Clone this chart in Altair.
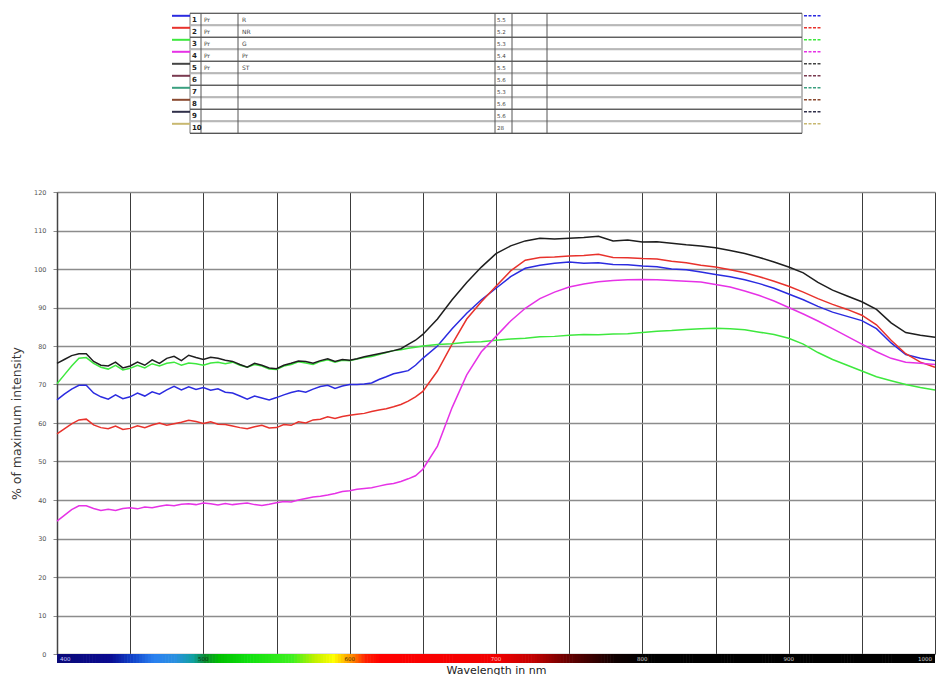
import altair as alt
import pandas as pd

# ---------------- data ----------------
wl_fine = list(range(400, 651, 5))
wl_coarse = list(range(660, 1001, 10))
wavelengths = wl_fine + wl_coarse

series_names = ["1", "2", "3", "4", "5"]
series_colors = ["#2b2be0", "#e8322c", "#3ee83e", "#e632e6", "#1e1e1e"]

blue = [66.0, 67.5, 68.8, 69.8, 69.8, 67.8, 66.8, 66.2, 67.3, 66.3,
        66.8, 67.8, 67.0, 68.1, 67.5, 68.6, 69.5, 68.6, 69.4, 68.7,
        69.2, 68.5, 68.9, 68.0, 67.8, 67.0, 66.2, 67.0, 66.5, 66.0,
        66.6, 67.3, 67.9, 68.4, 68.0, 68.8, 69.5, 69.8, 69.0, 69.6,
        70.0, 70.0, 70.1, 70.4, 71.3, 72.0, 72.8, 73.2, 73.6, 75.0,
        76.8,
        80.0, 84.5, 88.5, 92.0, 95.0, 98.0, 100.2, 101.0, 101.5, 101.8,
        101.5, 101.6, 101.2, 101.1, 100.8, 100.6, 100.0, 99.8, 99.2, 98.6,
        98.0, 97.2, 96.2, 95.0, 93.5, 92.0, 90.3, 88.8, 87.7, 86.6,
        84.5, 80.8, 77.8, 76.8, 76.2]

red = [57.2, 58.5, 59.8, 60.8, 61.0, 59.5, 58.8, 58.5, 59.2, 58.3,
       58.6, 59.3, 58.8, 59.5, 60.0, 59.4, 59.8, 60.2, 60.7, 60.4,
       59.9, 60.3, 59.7, 59.6, 59.2, 58.8, 58.5, 59.0, 59.4, 58.7,
       58.8, 59.6, 59.4, 60.3, 60.0, 60.8, 61.0, 61.6, 61.2, 61.7,
       62.0, 62.3, 62.5, 63.0, 63.4, 63.7, 64.2, 64.8, 65.7, 66.8,
       68.2,
       73.5, 80.5, 87.0, 91.5, 95.5, 99.5, 102.3, 103.0, 103.1, 103.4,
       103.5, 103.8, 103.0, 102.9, 102.7, 102.6, 102.0, 101.6, 101.0, 100.5,
       99.8, 99.0, 98.0, 96.8, 95.5, 94.0, 92.3, 90.8, 89.5, 88.0,
       85.5, 81.5, 78.0, 75.8, 74.5]

green = [70.2, 72.5, 74.8, 76.8, 77.0, 75.5, 74.5, 74.0, 75.0, 73.8,
         74.2, 75.0, 74.3, 75.4, 74.8, 75.5, 75.8, 75.0, 75.6, 75.4,
         75.0, 75.6, 75.8, 75.4, 75.8, 75.0, 74.5, 75.2, 74.8, 74.0,
         73.9, 74.8, 75.2, 75.9, 75.6, 75.2, 76.0, 76.4, 75.8, 76.3,
         76.2, 76.6, 77.0, 77.3, 77.8, 78.3, 78.8, 79.0, 79.4, 79.7,
         80.0,
         80.4, 80.6, 81.0, 81.1, 81.5, 81.8, 82.0, 82.4, 82.5, 82.8,
         83.0, 82.9, 83.1, 83.2, 83.5, 83.8, 84.0, 84.3, 84.5, 84.6,
         84.5, 84.2, 83.6, 83.0, 82.0, 80.5, 78.3, 76.5, 75.0, 73.5,
         72.0, 71.0, 70.0, 69.2, 68.6]

magenta = [34.5, 36.0, 37.5, 38.5, 38.5, 37.8, 37.3, 37.6, 37.3, 37.8,
           38.0, 37.7, 38.2, 38.0, 38.4, 38.7, 38.5, 38.9, 39.0, 38.8,
           39.2, 39.0, 38.7, 39.1, 38.8, 39.0, 39.2, 38.8, 38.6, 38.9,
           39.3, 39.6, 39.5, 40.0, 40.4, 40.8, 41.0, 41.3, 41.7, 42.2,
           42.4, 42.8, 43.0, 43.2, 43.6, 44.0, 44.3, 44.8, 45.5, 46.3,
           48.0,
           54.0, 64.0, 72.5, 78.5, 82.5, 86.5, 89.8, 92.3, 94.0, 95.3,
           96.1, 96.7, 97.0, 97.2, 97.3, 97.2, 97.0, 96.8, 96.6, 96.0,
           95.3, 94.3, 93.1, 91.7, 90.0, 88.3, 86.5, 84.5, 82.5, 80.5,
           78.5, 76.8, 75.8, 75.5, 75.2]

black = [75.5, 76.5, 77.5, 78.0, 78.0, 76.0, 75.0, 74.8, 75.8, 74.3,
         74.8, 75.8, 75.0, 76.4, 75.5, 76.8, 77.3, 76.2, 77.6, 77.0,
         76.5, 77.1, 76.8, 76.3, 76.0, 75.2, 74.5, 75.5, 75.0, 74.3,
         74.1, 75.0, 75.5, 76.1, 76.0, 75.5, 76.2, 76.7, 76.0, 76.5,
         76.3, 76.7, 77.2, 77.6, 78.0, 78.4, 78.8, 79.3, 80.4, 81.5,
         83.0,
         87.0, 92.0, 96.5, 100.5, 104.0, 106.0, 107.3, 108.0, 107.8, 108.0,
         108.2, 108.5, 107.3, 107.5, 107.0, 107.1, 106.7, 106.3, 106.0, 105.5,
         104.8, 104.0, 103.0, 101.8, 100.5, 99.0, 96.5, 94.5, 93.0, 91.5,
         89.5, 86.0, 83.5, 82.8, 82.3]

y_ticks = list(range(0, 121, 10))
x_grid = list(range(400, 1001, 50))

# legend table rows
table_rows = list(range(1, 11))
table_colors = ["#2b2be0", "#e8322c", "#3ee83e", "#e632e6", "#444444",
                "#7a3a50", "#3aa080", "#8a4a30", "#30304a", "#c8b870"]
table_pr = ["Pr", "Pr", "Pr", "Pr", "Pr", "", "", "", "", ""]
table_names = ["R", "NR", "G", "Pr", "ST", "", "", "", "", ""]
table_vals = ["5.5", "5.2", "5.3", "5.4", "5.5", "5.6", "5.3", "5.6", "5.6", "28"]

# spectrum bar colours
spec_stops = [400, 435, 450, 465, 480, 492, 500, 510, 530, 560, 575, 588,
              600, 610, 620, 700, 725, 750, 780, 800, 1000]
spec_colors = ["#0a0a78", "#0a0a90", "#1040c8", "#2a80f0", "#2a90e0", "#10a0a0",
               "#0a8a30", "#00c000", "#10e010", "#40f020", "#c0f000", "#ffff00",
               "#ff9000", "#ff2000", "#ff0000", "#f00000", "#c00000", "#600000",
               "#100000", "#000000", "#000000"]
bar_labels = ["400", "500", "600", "700", "800", "900", "1000"]
bar_label_wl = [400, 500, 600, 700, 800, 900, 1000]
bar_label_colors = ["#c8c8ff", "#103010", "#503000", "#ffc0c0", "#cfcfcf", "#cfcfcf", "#cfcfcf"]

# ---------------- frames ----------------
rows = []
for name, vals in zip(series_names, [blue, red, green, magenta, black]):
    for w, v in zip(wavelengths, vals):
        rows.append({"series": name, "wl": w, "value": v})
lines_df = pd.DataFrame(rows)

spec_df = pd.DataFrame({"wl": list(range(400, 1000, 2))})
labels_df = pd.DataFrame({"lab": bar_labels, "lw": bar_label_wl, "col": bar_label_colors})
table_df = pd.DataFrame({"row": table_rows, "color": table_colors, "pr": table_pr,
                         "name": table_names, "val": table_vals})

PLOT_TOP = 184          # padding above plot (plot top at 8 + 184 = 192 on the page)
H = 462
BAR_TOP, BAR_BOT = H, H + 9

xscale = alt.Scale(domain=[400, 1000], nice=False, zero=False)
yscale = alt.Scale(domain=[0, 120], nice=False)

lines = alt.Chart(lines_df).mark_line(strokeWidth=1.5).encode(
    x=alt.X("wl:Q", scale=xscale,
            axis=alt.Axis(values=x_grid, grid=True, gridColor="#3c3c3c", gridWidth=1,
                          labels=False, ticks=False, domain=False,
                          title="Wavelength in nm", titleFontSize=11,
                          titleFontWeight="normal", titleColor="#222",
                          titlePadding=10, titleFont="DejaVu Sans")),
    y=alt.Y("value:Q", scale=yscale,
            axis=alt.Axis(values=y_ticks, grid=True, gridColor="#8c8c8c", gridWidth=1.5,
                          tickSize=4, tickColor="#8c8c8c", labelFontSize=6.5,
                          labelColor="#555", labelPadding=7, domainColor="#444",
                          domainWidth=1.5, title="% of maximum intensity",
                          titleFontSize=12.5, titleFontWeight="normal", titleColor="#3a3a3a",
                          titlePadding=10, titleFont="DejaVu Sans", labelFont="DejaVu Sans")),
    stroke=alt.Stroke("series:N", scale=alt.Scale(domain=series_names, range=series_colors),
                      legend=None),
    detail="series:N",
)

spectrum = alt.Chart(spec_df).transform_calculate(
    wl2="min(datum.wl + 2.4, 1000)"
).mark_rect(strokeWidth=0).encode(
    x=alt.X("wl:Q", scale=xscale),
    x2="wl2:Q",
    y=alt.value(BAR_TOP),
    y2=alt.value(BAR_BOT),
    fill=alt.Fill("wl:Q", scale=alt.Scale(domain=spec_stops, range=spec_colors,
                                          interpolate="rgb"), legend=None),
)

LAB_Y = (BAR_TOP + BAR_BOT) / 2
lab_base = alt.Chart(labels_df)
lab_mid = lab_base.transform_filter("datum.lw > 400 && datum.lw < 1000").mark_text(
    fontSize=5.5, align="center", baseline="middle", font="DejaVu Sans").encode(
    x=alt.X("lw:Q", scale=xscale), y=alt.value(LAB_Y), text="lab:N",
    fill=alt.Fill("col:N", scale=None))
lab_first = lab_base.transform_filter("datum.lw == 400").mark_text(
    fontSize=5.5, align="left", baseline="middle", dx=3, font="DejaVu Sans").encode(
    x=alt.X("lw:Q", scale=xscale), y=alt.value(LAB_Y), text="lab:N",
    fill=alt.Fill("col:N", scale=None))
lab_last = lab_base.transform_filter("datum.lw == 1000").mark_text(
    fontSize=5.5, align="right", baseline="middle", dx=-3, font="DejaVu Sans").encode(
    x=alt.X("lw:Q", scale=xscale), y=alt.value(LAB_Y), text="lab:N",
    fill=alt.Fill("col:N", scale=None))

# ---------------- legend table (above plot) ----------------
T0 = 13.3 - (8 + PLOT_TOP)
tb = alt.Chart(table_df).transform_calculate(
    top=f"{T0} + (datum.row - 1) * 12",
    bot="datum.top + 12",
    mid="datum.top + 6.5",
    seg="datum.top + 2.5",
    dark="datum.row % 2 == 1 ? '#555555' : '#b8b8b8'",
    lw="datum.row % 2 == 1 ? 1 : 2",
)
TL, TR = 133, 745
t_box = tb.mark_rect(fill="white", stroke="#777777", strokeWidth=1).encode(
    x=alt.value(TL), x2=alt.value(TR),
    y=alt.Y("top:Q", scale=None, axis=None), y2="bot:Q")
t_lines = tb.mark_rule().encode(
    x=alt.value(TL), x2=alt.value(TR),
    y=alt.Y("top:Q", scale=None, axis=None),
    stroke=alt.Stroke("dark:N", scale=None),
    strokeWidth=alt.StrokeWidth("lw:Q", scale=None))
t_bottom = tb.transform_filter("datum.row == 10").mark_rule(stroke="#555555", strokeWidth=1.2).encode(
    x=alt.value(TL), x2=alt.value(TR), y=alt.Y("bot:Q", scale=None, axis=None))
col_layers = []
for cx in [144, 181, 438, 455, 490]:
    col_layers.append(
        tb.transform_filter("datum.row == 1").transform_calculate(ytop="datum.top", ybot="datum.top + 120")
        .mark_rule(stroke="#555555", strokeWidth=1).encode(
            x=alt.value(cx), y=alt.Y("ytop:Q", scale=None, axis=None), y2="ybot:Q"))
t_left = tb.mark_rule(strokeWidth=2).encode(
    x=alt.value(115), x2=alt.value(TL),
    y=alt.Y("seg:Q", scale=None, axis=None),
    stroke=alt.Stroke("color:N", scale=None))
t_right = tb.mark_rule(strokeWidth=1.5, strokeDash=[3, 1.5]).encode(
    x=alt.value(747), x2=alt.value(764),
    y=alt.Y("seg:Q", scale=None, axis=None),
    stroke=alt.Stroke("color:N", scale=None))
t_num = tb.mark_text(fontSize=7, fontWeight="bold", align="left", baseline="middle",
                     font="DejaVu Sans", color="#222").encode(
    x=alt.value(135), y=alt.Y("mid:Q", scale=None, axis=None), text="row:N")
t_pr = tb.mark_text(fontSize=6, align="left", baseline="middle",
                    font="DejaVu Sans", color="#444").encode(
    x=alt.value(147), y=alt.Y("mid:Q", scale=None, axis=None), text="pr:N")
t_name = tb.mark_text(fontSize=6, align="left", baseline="middle",
                      font="DejaVu Sans", color="#444").encode(
    x=alt.value(185), y=alt.Y("mid:Q", scale=None, axis=None), text="name:N")
t_val = tb.mark_text(fontSize=5.5, align="left", baseline="middle",
                     font="DejaVu Sans", color="#444").encode(
    x=alt.value(440), y=alt.Y("mid:Q", scale=None, axis=None), text="val:N")

chart = alt.layer(
    lines, spectrum, lab_mid, lab_first, lab_last,
    t_box, t_lines, t_bottom, *col_layers, t_left, t_right, t_num, t_pr, t_name, t_val,
).properties(
    width=878, height=H,
    autosize=alt.AutoSizeParams(type="none"),
    padding={"left": 49, "top": PLOT_TOP, "right": 4, "bottom": 667 - PLOT_TOP - H},
    background="white",
).configure_view(strokeWidth=0)

chart.save("out.html", embed_options={"renderer": "svg", "actions": False})
